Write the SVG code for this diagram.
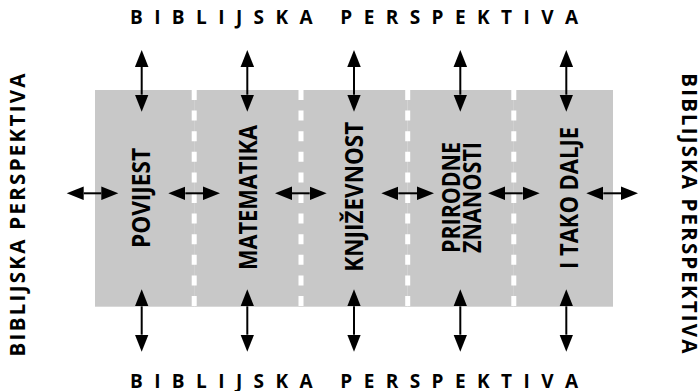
<svg xmlns="http://www.w3.org/2000/svg" width="698" height="391" viewBox="0 0 698 391">
<defs>
<marker id="ah" markerUnits="userSpaceOnUse" markerWidth="18" markerHeight="14" refX="0" refY="6.75" orient="auto-start-reverse" viewBox="0 0 18 13.5">
<path d="M0,0 L17,6.75 L0,13.5 Z" fill="#000"/>
</marker>
</defs>
<style>
.col{fill:#c8c8c8}
.sep{stroke:#fff;stroke-width:5;stroke-dasharray:10 10.6;fill:none}
.lbl{font-family:"Open Sans","Noto Sans",sans-serif;font-weight:700;font-size:25px;fill:#000;text-anchor:middle}
.head{font-family:"Open Sans","Noto Sans",sans-serif;font-weight:700;font-size:19px;fill:#000}
.side{font-family:"Open Sans","Noto Sans",sans-serif;font-weight:700;font-size:20.5px;fill:#000;text-anchor:middle}
.arr{stroke:#000;stroke-width:2;fill:none;marker-start:url(#ah);marker-end:url(#ah)}
</style>
<rect width="698" height="391" fill="#fff"/>
<g id="frame-labels">
<text class="head" x="130" y="24" textLength="448" lengthAdjust="spacing">BIBLIJSKA  PERSPEKTIVA</text>
<text class="head" x="130" y="388" textLength="448" lengthAdjust="spacing">BIBLIJSKA  PERSPEKTIVA</text>
<text class="side" transform="translate(25,215) rotate(-90)" textLength="283" lengthAdjust="spacing">BIBLIJSKA PERSPEKTIVA</text>
<text class="side" transform="translate(681.7,213.3) rotate(90)" textLength="280" lengthAdjust="spacing">BIBLIJSKA PERSPEKTIVA</text>
</g>
<g id="povijest">
<rect class="col" x="95" y="90" width="99.2" height="216.7"/>
<text class="lbl" transform="translate(150,198) rotate(-90)" textLength="100" lengthAdjust="spacingAndGlyphs">POVIJEST</text>
</g>
<g id="matematika">
<rect class="col" x="194.2" y="90" width="106.8" height="216.7"/>
<text class="lbl" transform="translate(257,197.5) rotate(-90)" textLength="145" lengthAdjust="spacingAndGlyphs">MATEMATIKA</text>
</g>
<g id="knjizevnost">
<rect class="col" x="301" y="90" width="106.7" height="216.7"/>
<text class="lbl" transform="translate(363,196.7) rotate(-90)" textLength="150" lengthAdjust="spacingAndGlyphs">KNJIŽEVNOST</text>
</g>
<g id="prirodne-znanosti">
<rect class="col" x="407.7" y="90" width="106.1" height="216.7"/>
<text class="lbl" transform="translate(459.5,197.5) rotate(-90)" textLength="111" lengthAdjust="spacingAndGlyphs">PRIRODNE</text>
<text class="lbl" transform="translate(481.2,197.5) rotate(-90)" textLength="111" lengthAdjust="spacingAndGlyphs">ZNANOSTI</text>
</g>
<g id="i-tako-dalje">
<rect class="col" x="513.8" y="90" width="99.2" height="216.7"/>
<text class="lbl" transform="translate(578,198) rotate(-90)" textLength="142" lengthAdjust="spacingAndGlyphs">I TAKO DALJE</text>
</g>
<g id="separators">
<line class="sep" x1="194.2" y1="90" x2="194.2" y2="306.7"/>
<line class="sep" x1="301" y1="90" x2="301" y2="306.7"/>
<line class="sep" x1="407.7" y1="90" x2="407.7" y2="306.7"/>
<line class="sep" x1="513.8" y1="90" x2="513.8" y2="306.7"/>
</g>
<g id="connectors">
<line class="arr" x1="141.7" y1="67" x2="141.7" y2="94.7"/>
<line class="arr" x1="247.3" y1="67" x2="247.3" y2="94.7"/>
<line class="arr" x1="354" y1="67" x2="354" y2="94.7"/>
<line class="arr" x1="460.3" y1="67" x2="460.3" y2="94.7"/>
<line class="arr" x1="566.3" y1="67" x2="566.3" y2="94.7"/>
<line class="arr" x1="141.7" y1="306.3" x2="141.7" y2="334.7"/>
<line class="arr" x1="247.3" y1="306.3" x2="247.3" y2="334.7"/>
<line class="arr" x1="354" y1="306.3" x2="354" y2="334.7"/>
<line class="arr" x1="460.3" y1="306.3" x2="460.3" y2="334.7"/>
<line class="arr" x1="566.3" y1="306.3" x2="566.3" y2="334.7"/>
<line class="arr" x1="83.7" y1="193.3" x2="101.3" y2="193.3"/>
<line class="arr" x1="185.3" y1="193.3" x2="203" y2="193.3"/>
<line class="arr" x1="292" y1="193.3" x2="309.7" y2="193.3"/>
<line class="arr" x1="398.3" y1="193.3" x2="417" y2="193.3"/>
<line class="arr" x1="505" y1="193.3" x2="522.7" y2="193.3"/>
<line class="arr" x1="603.3" y1="193.3" x2="621" y2="193.3"/>
</g>
</svg>
